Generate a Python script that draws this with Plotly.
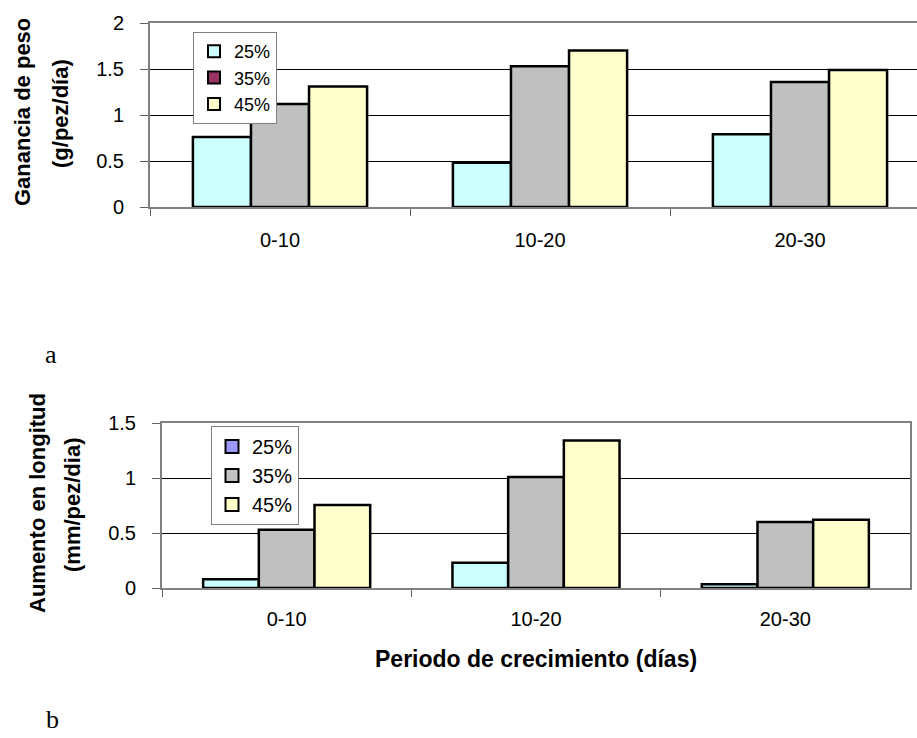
import plotly.graph_objects as go

# ---- data ----
periods = ["0-10", "10-20", "20-30"]
series = ["25%", "35%", "45%"]
gain_25 = [0.76, 0.48, 0.79]
gain_35 = [1.12, 1.53, 1.36]
gain_45 = [1.31, 1.70, 1.49]
len_25 = [0.08, 0.23, 0.035]
len_35 = [0.53, 1.01, 0.60]
len_45 = [0.755, 1.34, 0.62]

bar_colors = ["#CCFFFF", "#C0C0C0", "#FFFFCC"]
legend_colors_a = ["#CCFFFF", "#993366", "#FFFFCC"]
legend_colors_b = ["#9999FF", "#C0C0C0", "#FFFFCC"]

W, H = 917, 738
FONT = "Arial, Liberation Sans, sans-serif"

def px_x(v):
    return v / W

def px_y(v):
    return 1 - v / H

fig = go.Figure()

for vals, col in zip([gain_25, gain_35, gain_45], bar_colors):
    fig.add_trace(go.Bar(x=periods, y=vals, marker=dict(color=col, line=dict(color="black", width=2.5)),
                         showlegend=False, xaxis="x", yaxis="y", hoverinfo="skip"))
for vals, col in zip([len_25, len_35, len_45], bar_colors):
    fig.add_trace(go.Bar(x=periods, y=vals, marker=dict(color=col, line=dict(color="black", width=2.5)),
                         showlegend=False, xaxis="x2", yaxis="y2", hoverinfo="skip"))

for name, col in zip(series, legend_colors_a):
    fig.add_trace(go.Scatter(x=[None], y=[None], mode="markers", name=name,
                             marker=dict(symbol="square", size=12, color=col, line=dict(color="black", width=2)),
                             legend="legend", xaxis="x", yaxis="y"))
for name, col in zip(series, legend_colors_b):
    fig.add_trace(go.Scatter(x=[None], y=[None], mode="markers", name=name,
                             marker=dict(symbol="square", size=13, color=col, line=dict(color="black", width=2)),
                             legend="legend2", xaxis="x2", yaxis="y2"))

axis_common = dict(showline=True, linecolor="#808080", linewidth=2, ticks="outside",
                   tickcolor="#606060", automargin=False,
                   tickfont=dict(family=FONT, size=20, color="black"))

fig.update_layout(
    template="none",
    width=W, height=H,
    margin=dict(l=0, r=0, t=0, b=0, pad=0),
    paper_bgcolor="white", plot_bgcolor="white",
    barmode="group", bargap=0.33, bargroupgap=0,
    font=dict(family=FONT, color="black"),
    xaxis=dict(domain=[px_x(150), 1.0], type="category", categoryarray=periods,
               range=[-0.5, 2.45], tickson="boundaries", ticklen=7, showgrid=False,
               mirror=True, ticklabelstandoff=14, anchor="y", **axis_common),
    yaxis=dict(domain=[px_y(207), px_y(23)], range=[0, 2], dtick=0.5, ticklen=8,
               showgrid=True, gridcolor="black", gridwidth=1, zeroline=False,
               ticklabelstandoff=12, anchor="x", **axis_common),
    xaxis2=dict(domain=[px_x(162), px_x(910)], type="category", categoryarray=periods,
                range=[-0.5, 2.5], tickson="boundaries", ticklen=7, showgrid=False,
                mirror=True, ticklabelstandoff=12, anchor="y2", **axis_common),
    yaxis2=dict(domain=[px_y(588), px_y(423)], range=[0, 1.5], dtick=0.5, ticklen=8,
                showgrid=True, gridcolor="black", gridwidth=1, zeroline=False, mirror=True,
                ticklabelstandoff=12, anchor="x2", **axis_common),
    legend=dict(x=px_x(193), y=px_y(32), xanchor="left", yanchor="top",
                bordercolor="#808080", borderwidth=1, bgcolor="white",
                font=dict(family=FONT, size=18, color="black"), tracegroupgap=0,
                itemwidth=30),
    legend2=dict(x=px_x(211), y=px_y(426), xanchor="left", yanchor="top",
                 bordercolor="#808080", borderwidth=1, bgcolor="white",
                 font=dict(family=FONT, size=20, color="black"), tracegroupgap=0,
                 itemwidth=30),
)

ann_font_bold = dict(family=FONT, size=22, color="black", weight="bold")
annotations = [
    dict(text="Ganancia de peso", x=px_x(23), y=px_y(112), textangle=-90),
    dict(text="(g/pez/día)", x=px_x(60), y=px_y(114), textangle=-90),
    dict(text="Aumento en longitud", x=px_x(37), y=px_y(503), textangle=-90),
    dict(text="(mm/pez/dia)", x=px_x(72), y=px_y(505), textangle=-90),
]
for a in annotations:
    fig.add_annotation(xref="paper", yref="paper", showarrow=False, xanchor="center", yanchor="middle",
                       font=ann_font_bold, **a)
fig.add_annotation(text="Periodo de crecimiento (días)", xref="paper", yref="paper",
                   x=px_x(536), y=px_y(659), showarrow=False, xanchor="center", yanchor="middle",
                   font=dict(family=FONT, size=23, color="black", weight="bold"))

serif = dict(family="Liberation Serif, Times New Roman, serif", size=26, color="black")
fig.add_annotation(text="a", xref="paper", yref="paper", x=px_x(51), y=px_y(354), showarrow=False,
                   xanchor="center", yanchor="middle", font=serif)
fig.add_annotation(text="b", xref="paper", yref="paper", x=px_x(52), y=px_y(719), showarrow=False,
                   xanchor="center", yanchor="middle", font=serif)

fig.write_html("out.html", config={"displayModeBar": False},
               post_script="document.body.style.margin='0px';document.body.style.overflow='hidden';")
